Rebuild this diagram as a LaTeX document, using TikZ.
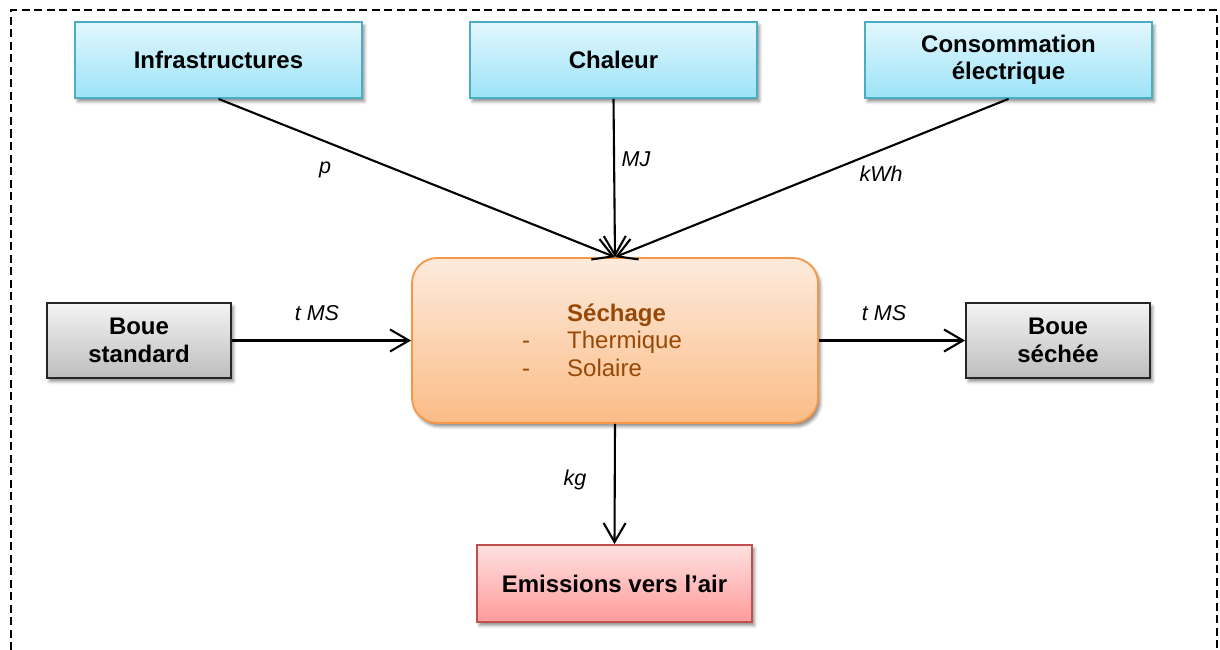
\documentclass[tikz,border=0pt]{standalone}
\usepackage{fontspec}
\setmainfont{Liberation Sans}
\usetikzlibrary{arrows.meta,shadows.blur}

\definecolor{blueTop}{HTML}{E2F7FD}
\definecolor{blueBot}{HTML}{9CE3F7}
\definecolor{blueLine}{HTML}{4BACC6}
\definecolor{greyTop}{HTML}{F4F4F4}
\definecolor{greyBot}{HTML}{BDBDBD}
\definecolor{orTop}{HTML}{FDEBDD}
\definecolor{orBot}{HTML}{FBBC86}
\definecolor{orLine}{HTML}{F79646}
\definecolor{redTop}{HTML}{FFE0E0}
\definecolor{redBot}{HTML}{FF9B9B}
\definecolor{redLine}{HTML}{C0504D}
\definecolor{brownText}{HTML}{984806}

\tikzset{
  box/.style={draw, line width=1.8pt, minimum height=76pt, align=center,
    font=\fontsize{24}{27.5}\selectfont\bfseries,
    blur shadow={shadow xshift=2.5pt, shadow yshift=-3.5pt, shadow blur radius=3pt, shadow opacity=45}},
  inbox/.style={box, draw=blueLine, top color=blueTop, bottom color=blueBot, minimum width=287pt},
  slbox/.style={box, draw=black!85, top color=greyTop, bottom color=greyBot, minimum width=184pt, minimum height=75pt},
  outbox/.style={box, draw=redLine, top color=redTop, bottom color=redBot, minimum width=275pt, minimum height=77pt},
  procbox/.style={draw=orLine, line width=1.8pt, rounded corners=25pt, top color=orTop, bottom color=orBot,
    minimum width=406pt, minimum height=165pt,
    blur shadow={shadow xshift=2.5pt, shadow yshift=-3.5pt, shadow blur radius=3pt, shadow opacity=45}},
  flow/.style={line width=2.1pt, -{Straight Barb[length=19pt,width=22pt,line width=2.1pt]}},
  qty/.style={font=\fontsize{21.5}{24}\selectfont\itshape, inner sep=0pt},
  frame/.style={line width=2pt, dash pattern=on 8pt off 4.5pt}
}

\begin{document}
\begin{tikzpicture}[x=1pt, y=-1pt]
  \useasboundingbox (0,0) rectangle (1220,650);

  % dashed system boundary (open at the bottom edge of the page)
  \draw[frame] (11,700) -- (11,10.5) -- (1217,10.5) -- (1217,700);

  % inputs
  \node[inbox] (infra) at (218.5,60) {Infrastructures};
  \node[inbox] (heat)  at (613.5,60) {Chaleur};
  \node[inbox] (elec)  at (1008.5,60) {Consommation\\électrique};

  % process
  \node[procbox] (dry) at (615,340.5) {};
  \node[anchor=west, inner sep=0pt, text=brownText, font=\fontsize{24}{27.5}\selectfont] (drytext) at (522,343)
    {\begin{tabular}{@{}l@{\hspace{37pt}}l@{}}
      & \textbf{Séchage}\\
      - & Thermique\\
      - & Solaire
    \end{tabular}};

  % sludge in / out
  \node[slbox] (sludgein)  at (139,340.5) {Boue\\standard};
  \node[slbox] (sludgeout) at (1058,340.5) {Boue\\séchée};

  % emissions
  \node[outbox] (air) at (614.5,583.5) {Emissions vers l’air};

  % flows
  \draw[flow] (infra.south) -- (dry.north);
  \draw[flow] (heat.south)  -- (dry.north);
  \draw[flow] (elec.south)  -- (dry.north);
  \draw[flow] (sludgein.east) -- (dry.west);
  \draw[flow] (dry.east) -- (sludgeout.west);
  \draw[flow] (dry.south) -- (air.north);

  % flow units
  \node[qty] (qp)   at (325,170) {p};
  \node[qty] (qmj)  at (636,159) {MJ};
  \node[qty] (qkwh) at (881,174) {kWh};
  \node[qty] (qin)  at (317,313) {t MS};
  \node[qty] (qout) at (884,313) {t MS};
  \node[qty] (qkg)  at (575,480) {kg};
\end{tikzpicture}
\end{document}
